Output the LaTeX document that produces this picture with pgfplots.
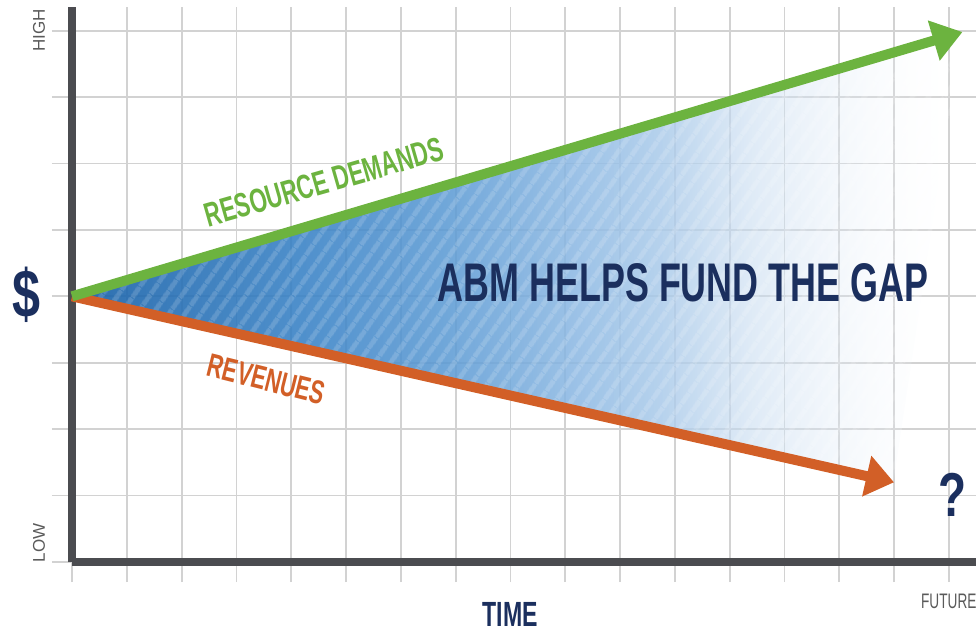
\documentclass[border=0pt]{standalone}
\usepackage{pgfplots}
\pgfplotsset{compat=1.18}
\usetikzlibrary{arrows.meta,patterns.meta,fadings}
\usepackage{fontspec}
\setmainfont{Liberation Sans}
\newfontfamily\cond[FakeStretch=0.66]{Liberation Sans}
\newfontfamily\condB[FakeStretch=0.74]{Liberation Sans}
\newfontfamily\condC[FakeStretch=0.65]{Liberation Sans}
\definecolor{greenC}{HTML}{6CB33F}
\definecolor{orangeC}{HTML}{D25F27}
\definecolor{navyC}{HTML}{1B2F5E}
\definecolor{axisgray}{HTML}{4B4C50}
\definecolor{gridgray}{HTML}{D2D2D2}
\definecolor{labelgray}{HTML}{5A5A5A}
\definecolor{bA}{HTML}{1A62A8}
\definecolor{bB}{HTML}{3B83C6}
\definecolor{bC}{HTML}{5D9BD4}
\definecolor{bD}{HTML}{94BDE5}
\definecolor{bE}{HTML}{C8DCF0}
\definecolor{bF}{HTML}{EAF1F9}
\pgfdeclarehorizontalshading{gapshade}{100bp}{color(0bp)=(bA); color(25bp)=(bA); color(38bp)=(bB); color(46bp)=(bC); color(54.5bp)=(bD); color(63bp)=(bE); color(70.5bp)=(bF); color(75bp)=(white); color(100bp)=(white)}
\pgfdeclarehorizontalshading{gapfadeshade}{100bp}{color(0bp)=(pgftransparent!8); color(25bp)=(pgftransparent!8); color(58bp)=(pgftransparent!14); color(75bp)=(pgftransparent!100); color(100bp)=(pgftransparent!100)}
\pgfdeclarefading{gapfade}{\pgfuseshading{gapfadeshade}}
\begin{document}
\begin{tikzpicture}
\path[use as bounding box] (-36pt,-35pt) rectangle (454pt,281pt);
\begin{axis}[
  at={(0,0)}, anchor=south west, scale only axis,
  width=452.1pt, height=277.6pt,
  xmin=0, xmax=16.5, ymin=0, ymax=8.36,
  axis lines=left,
  axis line style={-, line width=4pt, color=axisgray},
  xtick={0,...,16}, ytick={0,...,8},
  xticklabels={}, yticklabels={},
  grid=major, grid style={line width=0.9pt, color=gridgray},
  tick style={line width=0.9pt, color=gridgray},
  major tick length=10pt, tick align=outside,
  clip=false,
]
% gap area
\addplot[draw=none, shade, shading=gapshade, path fading=gapfade]
  coordinates {(0,4) (16.25,7.98) (15,1.2)} -- cycle;
\addplot[draw=none, pattern={Lines[angle=55,distance=6.5pt,line width=2.5pt]}, pattern color=white, fill opacity=0.16]
  coordinates {(0,4) (16.25,7.98) (15,1.2)} -- cycle;
% lines
\addplot[color=orangeC, line width=5pt, -{Triangle[length=14pt,width=20pt]}]
  coordinates {(0,4) (15,1.2)};
\addplot[color=greenC, line width=5pt, -{Triangle[length=15pt,width=20pt]}]
  coordinates {(0,4) (16.25,7.98)};
% texts
\node[rotate=16, text=greenC, font=\cond\bfseries\fontsize{17}{18}\selectfont] at (axis cs:4.6,5.72) {RESOURCE DEMANDS};
\node[rotate=-14, text=orangeC, font=\cond\bfseries\fontsize{16.5}{18}\selectfont] at (axis cs:3.55,2.75) {REVENUES};
\node[text=navyC, font=\cond\bfseries\fontsize{27.2}{30}\selectfont] at (axis cs:11.15,4.2) {ABM HELPS FUND THE GAP};
\node[text=navyC, font=\condB\bfseries\fontsize{34}{36}\selectfont] at (axis cs:-0.83,4.02) {\$};
\node[text=navyC, font=\condB\bfseries\fontsize{31}{34}\selectfont] at (axis cs:16.06,1.01) {?};
\node[text=navyC, font=\cond\bfseries\fontsize{17.5}{20}\selectfont] at (axis cs:8,-0.79) {TIME};
\node[text=labelgray, font=\condC\fontsize{10.5}{12}\selectfont] at (axis cs:16,-0.59) {FUTURE};
\node[rotate=90, text=labelgray, font=\fontsize{8.5}{10}\selectfont] at (axis cs:-0.6,8.0) {HIGH};
\node[rotate=90, text=labelgray, font=\fontsize{8.5}{10}\selectfont] at (axis cs:-0.6,0.29) {LOW};
\end{axis}
\end{tikzpicture}
\end{document}
